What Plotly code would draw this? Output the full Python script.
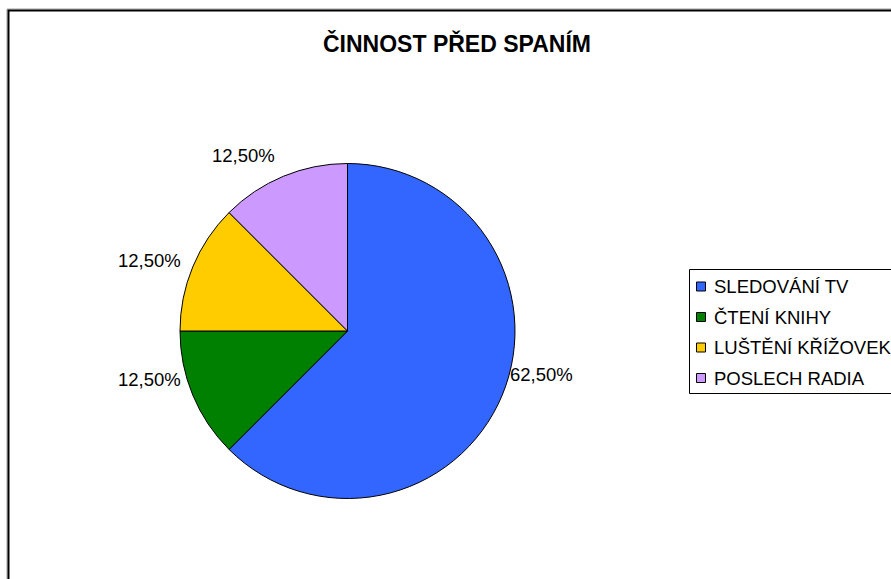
import math
import plotly.graph_objects as go

# Sleeping-habit survey data
categories = ["SLEDOVÁNÍ TV", "ČTENÍ KNIHY", "LUŠTĚNÍ KŘÍŽOVEK", "POSLECH RADIA"]
shares = [62.5, 12.5, 12.5, 12.5]
colors = ["#3366FF", "#008000", "#FFCC00", "#CC99FF"]
title_text = "ČINNOST PŘED SPANÍM"

W, H = 891, 579
FONT = "Liberation Sans, Arial, sans-serif"

# Pie geometry in pixels
cx, cy, r = 347.5, 331.0, 167.5

def px(x):
    return x / W

def py(y):
    return 1 - y / H

fig = go.Figure()
fig.add_trace(go.Pie(
    labels=categories,
    values=shares,
    sort=False,
    direction="clockwise",
    rotation=0,
    marker=dict(colors=colors, line=dict(color="black", width=1)),
    textinfo="none",
    hoverinfo="label+percent",
    showlegend=False,
    domain=dict(x=[px(cx - r), px(cx + r)], y=[py(cy + r), py(cy - r)]),
))

annotations = []
shapes = []

# Percentage labels placed around the pie at each slice's mid-angle
label_radius = 1.2
label_nudge = [(8, 33), (-12, 28), (-12, -6), (-27, -10)]
total = sum(shares)
start = 0.0
for v, (nx, ny) in zip(shares, label_nudge):
    mid = (start + v / 2) / total * 2 * math.pi
    start += v
    lx = cx + math.sin(mid) * r * label_radius
    ly = cy - math.cos(mid) * r * label_radius
    annotations.append(dict(
        x=px(lx), y=py(ly), xref="paper", yref="paper",
        text=f"{v / total * 100:.2f}%".replace(".", ","),
        showarrow=False, xanchor="center", yanchor="middle",
        xshift=nx, yshift=ny,
        font=dict(family=FONT, size=18.5, color="black"),
    ))

# Title
annotations.append(dict(
    x=px(457), y=py(44), xref="paper", yref="paper",
    text=f"<b>{title_text}</b>", showarrow=False,
    xanchor="center", yanchor="middle",
    font=dict(family=FONT, size=23, color="black"),
))

# Chart frame (grey shadow + black line)
shapes.append(dict(type="rect", xref="paper", yref="paper",
                   x0=px(7), y0=py(600), x1=px(920), y1=py(9),
                   line=dict(color="#A0A0A0", width=1), fillcolor="rgba(0,0,0,0)"))
shapes.append(dict(type="rect", xref="paper", yref="paper",
                   x0=px(8.5), y0=py(600), x1=px(920), y1=py(10.5),
                   line=dict(color="black", width=2), fillcolor="rgba(0,0,0,0)"))

# Legend box and entries
shapes.append(dict(type="rect", xref="paper", yref="paper",
                   x0=px(689.5), y0=py(393.5), x1=px(920), y1=py(269.5),
                   line=dict(color="black", width=1), fillcolor="white"))
row0, row_gap = 286.5, 30.5
for i, (name, col) in enumerate(zip(categories, colors)):
    yc = row0 + i * row_gap
    shapes.append(dict(type="rect", xref="paper", yref="paper",
                       x0=px(696.5), x1=px(705.5), y0=py(yc + 4.5), y1=py(yc - 4.5),
                       line=dict(color="black", width=1), fillcolor=col))
    annotations.append(dict(
        x=px(711.5), y=py(yc), xref="paper", yref="paper",
        text=name, showarrow=False, xanchor="left", yanchor="middle",
        font=dict(family=FONT, size=18.5, color="black"),
    ))

fig.update_layout(
    width=W, height=H,
    margin=dict(l=0, r=0, t=0, b=0),
    paper_bgcolor="white", plot_bgcolor="white",
    showlegend=False,
    shapes=shapes,
    annotations=annotations,
)

fig.write_html("out.html")
